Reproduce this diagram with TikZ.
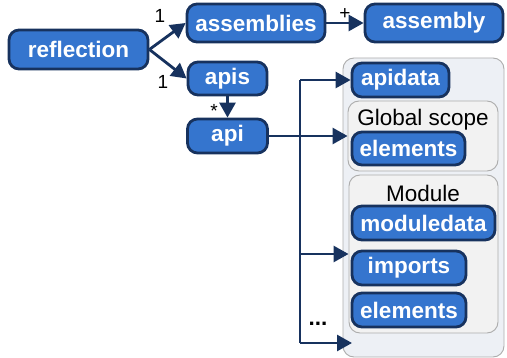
\documentclass[tikz,border=0pt]{standalone}
\usepackage{fontspec}
\setmainfont{Liberation Sans}
\usetikzlibrary{arrows.meta}

\definecolor{boxblue}{HTML}{3575CE}
\definecolor{navy}{HTML}{17325E}
\definecolor{panel}{HTML}{EDF0F5}
\definecolor{group}{HTML}{F2F2F2}

\begin{document}
\begin{tikzpicture}[x=1pt,y=-1pt,every node/.style={inner sep=0pt},
		blk/.style={draw=navy,fill=boxblue,line width=2.8pt,rounded corners=10pt,text=white,font=\fontsize{22.5}{22.5}\selectfont\bfseries},
		grp/.style={draw=gray!65,fill=group,rounded corners=11pt,line width=0.9pt},
		link/.style={draw=navy,line width=2.8pt,-{Triangle[length=15pt,width=16pt]}},
		mult/.style={font=\fontsize{19}{19}\selectfont}]
		\useasboundingbox (0,0) rectangle (507,358);
		%Notation: name/x/y/width/height/text
		% The panels behind the api parts
		\node[grp,fill=panel,minimum width=161pt,minimum height=299pt] (panel) at (423.5,207.5) {};
		\node[grp,minimum width=150pt,minimum height=70pt] (gscope) at (423,136) {};
		\node[grp,minimum width=149pt,minimum height=158pt] (module) at (423.5,254) {};
		\node[font=\fontsize{22.5}{22.5}\selectfont] (gtitle) at (423,120) {Global scope};
		\node[font=\fontsize{22.5}{22.5}\selectfont] (mtitle) at (423,193) {Module};
		% Loop through all blue boxes
		\foreach \nm/\x/\y/\w/\h/\txt in {
				reflection/78.5/49.5/139/39/reflection,
				assemblies/256/23/138/38/assemblies,
				assembly/434/23/138/38/assembly,
				apis/227.5/78.5/79/33/apis,
				api/227.5/136/80/34/api,
				apidata/400.5/80/97/34/apidata,
				gelements/408.5/148.5/113/33/elements,
				moduledata/423.5/223/143/34/moduledata,
				imports/409/268/114/34/imports,
				melements/409/310/114/34/elements}{
			\node[blk,minimum width=\w pt,minimum height=\h pt] (\nm) at (\x,\y) {\txt};
		}
		% Connectors with their multiplicities
		\draw[link] (reflection.east) -- (assemblies.west);
		\draw[link] (reflection.east) -- (apis.west);
		\draw[link] (assemblies.east) -- (assembly.west);
		\draw[link] (apis.south) -- (api.north);
		\draw[link] (api.east) -- (gscope.west);
		\node[mult] (m1) at (160,16) {1};
		\node[mult] (m2) at (163,82) {1};
		\node[mult] (m3) at (345,14) {+};
		\node[mult] (m4) at (214,111) {*};
		% The bus to the other parts
		\coordinate (bustop) at (300,80);
		\coordinate (busmid) at (300,254);
		\coordinate (busend) at (300,343);
		\coordinate (more) at (352,343);
		\draw[navy,line width=2.8pt] (bustop) -- (busend);
		\draw[link] (bustop) -- (apidata.west);
		\draw[link] (busmid) -- (module.west);
		\draw[link] (busend) -- (more);
		\node[font=\fontsize{22.5}{22.5}\selectfont\bfseries] (dots) at (318,324) {...};
	\end{tikzpicture}
\end{document}
